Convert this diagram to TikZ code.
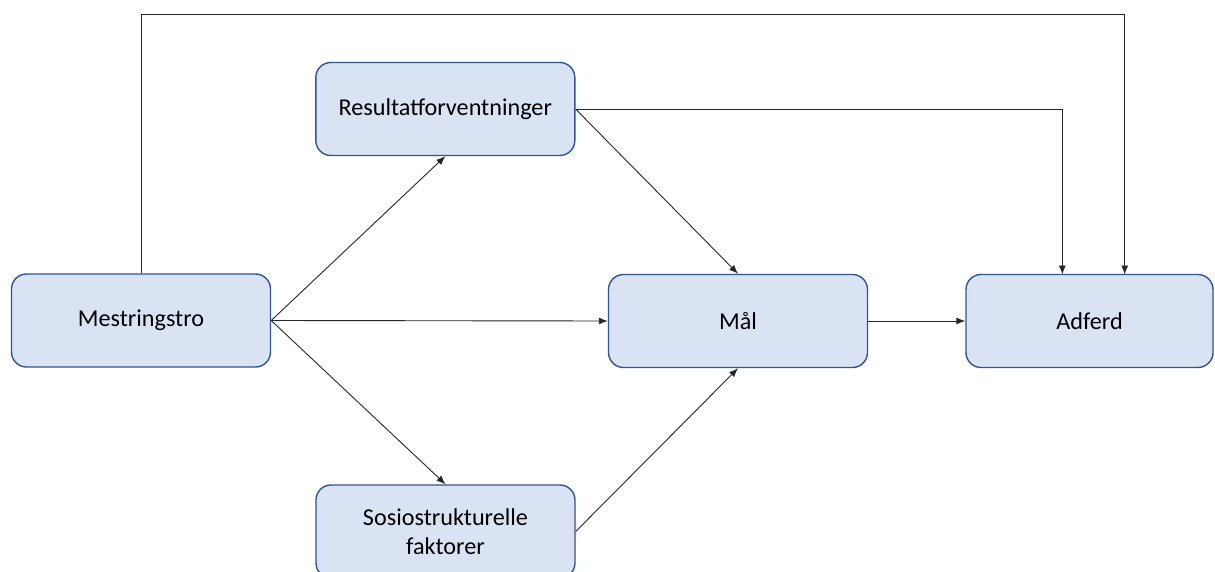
\documentclass[tikz,border=0pt]{standalone}
\usepackage{fontspec}
\setmainfont{Carlito}
\usetikzlibrary{arrows.meta}
\definecolor{boxfill}{HTML}{DAE3F3}
\definecolor{boxline}{HTML}{2F5597}
\begin{document}
\begin{tikzpicture}[x=1pt,y=-1pt,
  box/.style={draw=boxline, fill=boxfill, line width=1.4pt, rounded corners=15pt,
    minimum width=259pt, minimum height=93pt, inner sep=0pt, align=center,
    font=\fontsize{24.2}{29.5}\selectfont},
  link/.style={draw=black!85, line width=0.9pt, -{Latex[length=9pt,width=7pt]}}]
\useasboundingbox (0,0) rectangle (1215,572);
\node[box] (mes) at (141,320.5) {Mestringstro};
\node[box] (res) at (445.3,109) {Resultatforventninger};
\node[box] (mal) at (738,321) {Mål};
\node[box, minimum width=247pt] (adf) at (1089.5,321) {Adferd};
\node[box] (sos) at (445.5,531.5) {Sosiostrukturelle\\faktorer};
\coordinate (topbend) at (141,14);
\coordinate (adfA) at (1062.3,274.5);
\coordinate (adfB) at (1124.7,274.5);
\draw[link] (mes.east) -- (res.south);
\draw[link] (mes.east) -- (mal.west);
\draw[link] (mes.east) -- (sos.north);
\draw[link] (res.east) -- (mal.north);
\draw[link] (sos.east) -- (mal.south);
\draw[link] (mal.east) -- (adf.west);
\draw[link] (res.east) -| (adfA);
\draw[link] (mes.north) -- (topbend) -| (adfB);
\end{tikzpicture}
\end{document}
